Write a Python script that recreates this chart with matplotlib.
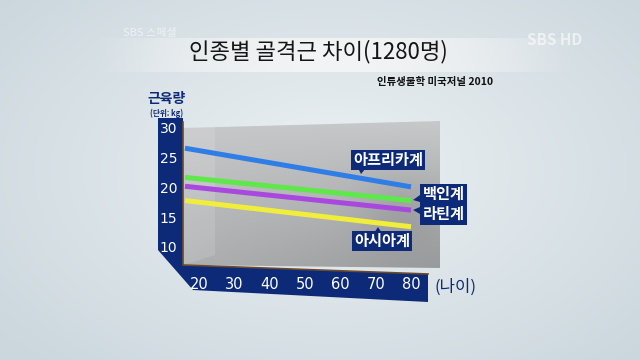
import numpy as np
import matplotlib
matplotlib.use('Agg')
import matplotlib.pyplot as plt
from matplotlib.patches import Polygon

plt.rcParams['font.family'] = ['Noto Sans CJK KR', 'DejaVu Sans']

# 데이터
ages = [20, 30, 40, 50, 60, 70, 80]
yticks = [10, 15, 20, 25, 30]
groups = ['아프리카계', '백인계', '라틴계', '아시아계']
line_x = [20, 80]
africa = [26.6, 20.1]
white = [21.7, 17.8]
latin = [20.2, 16.2]
asian = [17.8, 13.4]
colors = ['#2f7de6', '#5fe84a', '#a848de', '#f0ee3a']

navy = '#0d2a78'
W, H = 640, 360

fig = plt.figure(figsize=(6.4, 3.6), dpi=100)

# 배경 (픽셀 좌표)
bg = fig.add_axes([0, 0, 1, 1])
bg.set_xlim(0, W)
bg.set_ylim(H, 0)
bg.axis('off')
yy, xx = np.mgrid[0:H, 0:W]
r = np.sqrt(((xx - 330) / 420) ** 2 + ((yy - 170) / 260) ** 2)
c0 = np.array([0.925, 0.945, 0.955])
c1 = np.array([0.80, 0.845, 0.87])
t = np.clip(r, 0, 1)[..., None]
img = c0 * (1 - t) + c1 * t
bg.imshow(img, extent=[0, W, H, 0], aspect='auto', zorder=0)

# 제목 띠
band = np.ones((1, 200, 4))
band[..., :3] = 0.97
band[0, :, 3] = np.sin(np.linspace(0, np.pi, 200)) * 0.8
bg.imshow(band, extent=[90, 580, 72, 38], aspect='auto', zorder=1)
bg.text(318, 52, '인종별 골격근 차이(1280명)', fontsize=16, color='#151515',
        ha='center', va='center', zorder=3)
bg.text(435, 82, '인류생물학 미국저널 2010', fontsize=7.5, color='#111111',
        fontweight='bold', ha='center', va='center', zorder=3)
bg.text(150, 33, 'SBS 스페셜', fontsize=8, color='white', alpha=0.6,
        fontstyle='italic', ha='center', va='center', zorder=3)
bg.text(555, 40, 'SBS HD', fontsize=11, color='white', alpha=0.6,
        fontweight='bold', ha='center', va='center', zorder=3)

# 뒷벽
wall = Polygon([(183, 128), (440, 121), (440, 268), (183, 265)], closed=True,
               fc='none', ec='none')
bg.add_patch(wall)
wy, wx = np.mgrid[0:150, 0:260]
g = 0.78 - 0.10 * (wy / 150) - 0.08 * (wx / 260) * (wy / 150)
g = g - 0.05 * np.exp(-((wx - 220) / 40) ** 2 - ((wy - 90) / 40) ** 2)
wimg = np.dstack([g, g + 0.005, g + 0.012])
im = bg.imshow(wimg, extent=[183, 440, 268, 121], aspect='auto', zorder=1)
im.set_clip_path(wall)
side = Polygon([(183, 128), (215, 127), (215, 255), (183, 265)], closed=True,
               fc='white', alpha=0.12, ec='none', zorder=2)
bg.add_patch(side)

# 축 막대
axis_shape = Polygon([(158, 118), (183, 118), (183, 265), (428, 274), (428, 302),
                      (193, 290), (158, 250)], closed=True, fc=navy, ec='none',
                     zorder=2)
bg.add_patch(axis_shape)
bg.plot([183, 183, 428], [122, 265, 274], color='#6a4a2a', lw=1.2, zorder=2)
bg.text(167, 99, '근육량', fontsize=10, fontweight='bold', color=navy,
        ha='center', va='center', zorder=3)
bg.text(167, 113, '(단위: kg)', fontsize=5.5, fontweight='bold', color=navy,
        ha='center', va='center', zorder=3)
bg.text(455, 287, '(나이)', fontsize=12, color=navy, ha='center', va='center',
        zorder=3)

# 말풍선 꼬리
tails = [[(358, 168), (366, 168), (361, 174)],
         [(420, 195), (420, 202), (413, 200)],
         [(420, 207), (420, 214), (413, 210)],
         [(374, 233), (382, 233), (378, 227)]]
for tri in tails:
    bg.add_patch(Polygon(tri, closed=True, fc=navy, ec='none', zorder=4))

# 데이터 축
ax = fig.add_axes([183 / W, 1 - 265 / H, 257 / W, 140 / H])
ax.patch.set_alpha(0)
ax.set_xlim(19.47, 87.7)
ax.set_ylim(6.97, 30.5)
for s in ax.spines.values():
    s.set_visible(False)
ax.set_xticks([])
ax.set_yticks(yticks)
ax.set_yticklabels([str(v) for v in yticks], fontsize=10, color='white',
                   family='DejaVu Sans')
ax.tick_params(axis='y', length=0, pad=4)

for vals, col in zip([africa, white, latin, asian], colors):
    ax.plot(line_x, vals, color=col, lw=3.6, solid_capstyle='butt', zorder=3)

label_pos = [(73.9, 24.6), (88.7, 18.9), (88.7, 15.5), (72.3, 11.0)]
for name, (lx, ly) in zip(groups, label_pos):
    ax.text(lx, ly, name, fontsize=11, color='white', ha='center', va='center',
            fontweight='bold', clip_on=False, zorder=5,
            bbox=dict(boxstyle='square,pad=0.15', fc=navy, ec='none'))

# 나이 눈금
bx = fig.add_axes([199 / W, 1 - 277 / H, 212 / W, 0.001])
bx.patch.set_alpha(0)
bx.set_xlim(20, 80)
for s in bx.spines.values():
    s.set_visible(False)
bx.set_yticks([])
bx.set_xticks(ages)
bx.set_xticklabels([str(a) for a in ages], fontsize=10.5, color='white',
                   family='DejaVu Sans')
bx.tick_params(axis='x', length=0, pad=0)

fig.savefig('out.png', dpi=100)
